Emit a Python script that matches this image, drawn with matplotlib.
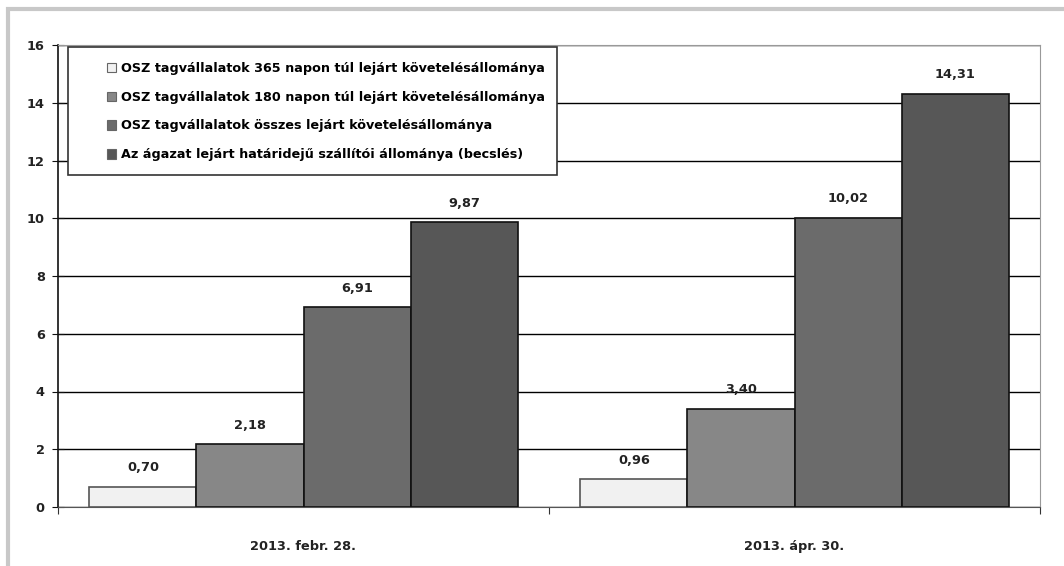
import matplotlib.pyplot as plt
import numpy as np
from matplotlib.container import BarContainer
from matplotlib.legend_handler import HandlerBase
from matplotlib.patches import Rectangle

categories = ["2013. febr. 28.", "2013. ápr. 30."]
series_labels = [
    "OSZ tagvállalatok 365 napon túl lejárt követelésállománya",
    "OSZ tagvállalatok 180 napon túl lejárt követelésállománya",
    "OSZ tagvállalatok összes lejárt követelésállománya",
    "Az ágazat lejárt határidejű szállítói állománya (becslés)",
]
overdue_365 = [0.70, 0.96]
overdue_180 = [2.18, 3.40]
overdue_all = [6.91, 10.02]
supplier_est = [9.87, 14.31]

series = [overdue_365, overdue_180, overdue_all, supplier_est]
colors = ["#f1f1f1", "#878787", "#6b6b6b", "#575757"]
edges = ["#555555", "#111111", "#111111", "#111111"]


class SquareAtRight(HandlerBase):
    # small square swatch pushed to the right end of the handle box
    def create_artists(self, legend, orig_handle, xdescent, ydescent,
                       width, height, fontsize, trans):
        face = orig_handle.patches[0].get_facecolor()
        s = 0.75 * fontsize
        p = Rectangle((width - xdescent - s, -ydescent + (height - s) / 2), s, s,
                      facecolor=face, edgecolor="#666666", linewidth=0.8,
                      transform=trans)
        return [p]


plt.rcParams["font.family"] = ["DejaVu Sans"]

fig = plt.figure(figsize=(10.64, 5.66), dpi=100)
ax = fig.add_axes([58 / 1064, 1 - 507 / 566, (1040 - 58) / 1064, (507 - 45) / 566])

# light frame around the whole picture
fig.patches.append(Rectangle((8 / 1064, -0.1), 1.2, 1 - 9 / 566 + 0.1,
                             transform=fig.transFigure, fill=False,
                             edgecolor="#c8c8c8", linewidth=3, zorder=0))

x = np.arange(len(categories))
width = 0.218
offsets = (np.arange(4) - 1.5) * width

for vals, lab, col, ec, off in zip(series, series_labels, colors, edges, offsets):
    bars = ax.bar(x + off, vals, width, color=col, edgecolor=ec, linewidth=1.2,
                  label=lab, zorder=3)
    for b, v in zip(bars, vals):
        ax.annotate(f"{v:.2f}".replace(".", ","),
                    (b.get_x() + b.get_width() / 2, v),
                    xytext=(0, 9), textcoords="offset points",
                    ha="center", va="bottom", fontsize=9.3, fontweight="bold",
                    color="#222222")

ax.set_xlim(-0.5, 1.5)
ax.set_ylim(0, 16)
ax.set_yticks(np.arange(0, 17, 2))
ax.yaxis.grid(True, color="black", linewidth=1.0)
ax.set_axisbelow(True)

ax.set_xticks([-0.5, 0.5, 1.5])
ax.set_xticklabels([])
ax.set_xticks(x, minor=True)
ax.set_xticklabels(categories, minor=True)
ax.tick_params(axis="x", which="major", direction="out", length=5, color="#333333")
ax.tick_params(axis="x", which="minor", length=0, pad=24)
ax.tick_params(axis="y", direction="inout", length=9, pad=5, color="#111111")
for t in ax.get_xticklabels(minor=True) + ax.get_yticklabels():
    t.set_fontweight("bold")
    t.set_fontsize(9.3)
    t.set_color("#222222")

ax.spines["left"].set_color("#111111")
ax.spines["left"].set_linewidth(1.2)
ax.spines["bottom"].set_color("#555555")
ax.spines["top"].set_color("#999999")
ax.spines["right"].set_color("#999999")

leg = ax.legend(loc="upper left", bbox_to_anchor=(0.0102, 0.9957), borderaxespad=0,
                fancybox=False, framealpha=1, edgecolor="#333333",
                prop={"weight": "bold", "size": 9.15}, labelspacing=0.98,
                handlelength=2.8, handleheight=1.6, handletextpad=0.35,
                borderpad=0.98, handler_map={BarContainer: SquareAtRight()})
leg.get_frame().set_linewidth(1.2)

fig.savefig("out.png", dpi=100)
